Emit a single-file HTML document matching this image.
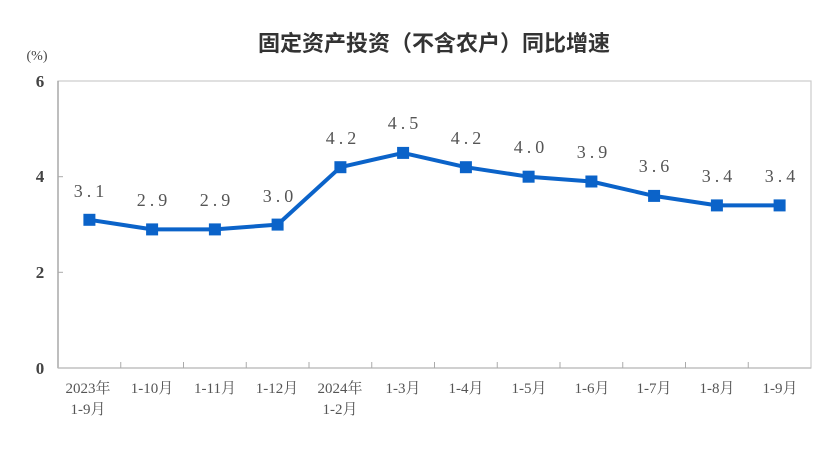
<!DOCTYPE html>
<html><head><meta charset="utf-8"><style>
html,body{margin:0;padding:0;background:#fff;}
svg{display:block;}
</style></head><body>
<svg width="839" height="449" viewBox="0 0 839 449" xmlns="http://www.w3.org/2000/svg">
<text x="434" y="51" text-anchor="middle" font-family="'Liberation Sans','Noto Sans CJK SC',sans-serif" font-size="22" font-weight="bold" fill="#333">固定资产投资（不含农户）同比增速</text>
<text x="37" y="60" text-anchor="middle" font-family="'Liberation Serif','Noto Serif CJK SC',serif" font-size="14" fill="#444">(%)</text>
<rect x="58" y="81" width="753" height="287" fill="none" stroke="#ccc" stroke-width="1.2"/>
<line x1="58" y1="81" x2="58" y2="368" stroke="#999" stroke-width="1.2"/>
<line x1="58" y1="368" x2="811" y2="368" stroke="#bbb" stroke-width="1.2"/>
<g stroke="#aaa" stroke-width="1">
<line x1="58" y1="176.7" x2="63" y2="176.7"/><line x1="58" y1="272.3" x2="63" y2="272.3"/>
<line x1="120.75" y1="368" x2="120.75" y2="362"/><line x1="183.5" y1="368" x2="183.5" y2="362"/><line x1="246.25" y1="368" x2="246.25" y2="362"/><line x1="309" y1="368" x2="309" y2="362"/><line x1="371.75" y1="368" x2="371.75" y2="362"/><line x1="434.5" y1="368" x2="434.5" y2="362"/><line x1="497.25" y1="368" x2="497.25" y2="362"/><line x1="560" y1="368" x2="560" y2="362"/><line x1="622.75" y1="368" x2="622.75" y2="362"/><line x1="685.5" y1="368" x2="685.5" y2="362"/><line x1="748.25" y1="368" x2="748.25" y2="362"/>
</g>
<g font-family="'Liberation Serif',serif" font-size="17" font-weight="bold" fill="#444" text-anchor="middle">
<text x="40" y="87">6</text><text x="40" y="182">4</text><text x="40" y="278">2</text><text x="40" y="374">0</text>
</g>
<polyline fill="none" stroke="#0b63c9" stroke-width="4" stroke-linejoin="round" points="89.4,219.8 152.1,229.4 214.9,229.4 277.6,224.6 340.4,167.2 403.1,152.9 465.9,167.2 528.6,176.7 591.4,181.5 654.1,195.9 716.9,205.4 779.6,205.4"/>
<g fill="#0b63c9">
<rect x="83.4" y="213.8" width="12" height="12"/><rect x="146.1" y="223.4" width="12" height="12"/><rect x="208.9" y="223.4" width="12" height="12"/><rect x="271.6" y="218.6" width="12" height="12"/><rect x="334.4" y="161.2" width="12" height="12"/><rect x="397.1" y="146.9" width="12" height="12"/><rect x="459.9" y="161.2" width="12" height="12"/><rect x="522.6" y="170.7" width="12" height="12"/><rect x="585.4" y="175.5" width="12" height="12"/><rect x="648.1" y="189.9" width="12" height="12"/><rect x="710.9" y="199.4" width="12" height="12"/><rect x="773.6" y="199.4" width="12" height="12"/>
</g>
<g font-family="'Liberation Serif',serif" font-size="18" fill="#555" text-anchor="middle" letter-spacing="4">
<text x="91" y="197">3.1</text><text x="154" y="206">2.9</text><text x="217" y="206">2.9</text><text x="280" y="202">3.0</text><text x="343" y="144">4.2</text><text x="405" y="129">4.5</text><text x="468" y="144">4.2</text><text x="531" y="153">4.0</text><text x="594" y="158">3.9</text><text x="656" y="172">3.6</text><text x="719" y="182">3.4</text><text x="782" y="182">3.4</text>
</g>
<g font-family="'Liberation Serif','Noto Serif CJK SC',serif" font-size="15" fill="#555" text-anchor="middle">
<text x="88" y="393">2023年</text><text x="88" y="414">1-9月</text>
<text x="152" y="393">1-10月</text><text x="215" y="393">1-11月</text><text x="277" y="393">1-12月</text>
<text x="340" y="393">2024年</text><text x="340" y="414">1-2月</text>
<text x="403" y="393">1-3月</text><text x="466" y="393">1-4月</text><text x="529" y="393">1-5月</text><text x="592" y="393">1-6月</text><text x="654" y="393">1-7月</text><text x="717" y="393">1-8月</text><text x="780" y="393">1-9月</text>
</g>
</svg>
</body></html>
